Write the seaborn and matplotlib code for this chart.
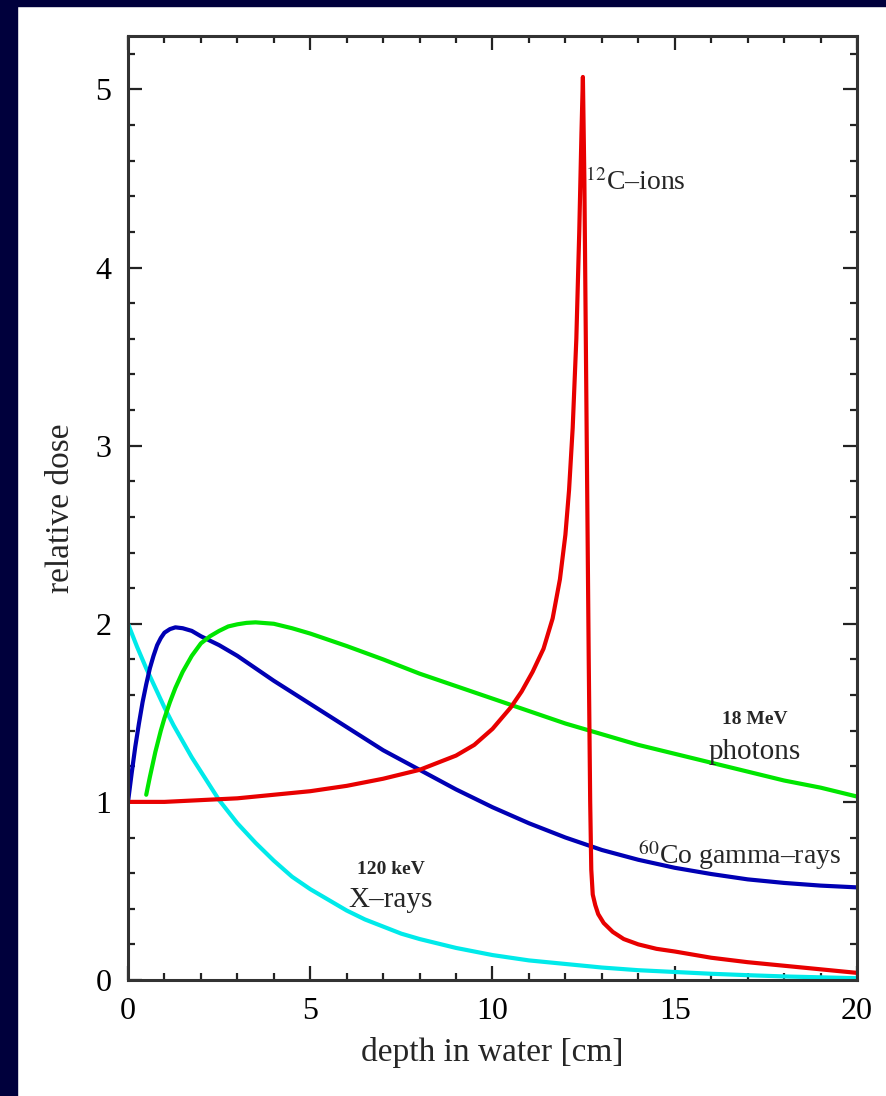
import numpy as np
import pandas as pd
import matplotlib
matplotlib.use("Agg")
from matplotlib import pyplot as plt
from matplotlib.patches import Rectangle
from matplotlib.ticker import MultipleLocator
import seaborn as sns

# depth-dose curves (depth in cm, relative dose)
xray_depth = [0, 0.25, 0.5, 0.75, 1, 1.25, 1.5, 1.75, 2, 2.25, 2.5, 3, 3.5, 4, 4.5,
              5, 5.5, 6, 6.5, 7, 7.5, 8, 9, 10, 11, 12, 13, 14, 15, 16, 17, 18, 19, 20]
xray_dose = [2.0, 1.87, 1.75, 1.64, 1.53, 1.43, 1.34, 1.25, 1.17, 1.09, 1.01, 0.88,
             0.77, 0.67, 0.58, 0.51, 0.45, 0.39, 0.34, 0.30, 0.26, 0.23, 0.18, 0.14,
             0.11, 0.09, 0.07, 0.055, 0.045, 0.035, 0.027, 0.02, 0.015, 0.01]

cobalt_depth = [0, 0.1, 0.2, 0.3, 0.4, 0.5, 0.6, 0.7, 0.8, 0.9, 1.0, 1.15, 1.3, 1.5,
                1.75, 2, 2.5, 3, 3.5, 4, 5, 6, 7, 8, 9, 10, 11, 12, 13, 14, 15, 16,
                17, 18, 19, 20]
cobalt_dose = [1.0, 1.16, 1.31, 1.44, 1.56, 1.66, 1.75, 1.82, 1.88, 1.92, 1.95, 1.97,
               1.98, 1.975, 1.96, 1.93, 1.88, 1.82, 1.75, 1.68, 1.55, 1.42, 1.29,
               1.18, 1.07, 0.97, 0.88, 0.80, 0.73, 0.675, 0.63, 0.595, 0.565, 0.545,
               0.53, 0.52]

photon_depth = [0.5, 0.6, 0.75, 0.9, 1.0, 1.15, 1.3, 1.5, 1.75, 2, 2.25, 2.5, 2.75,
                3, 3.25, 3.5, 4, 4.5, 5, 6, 7, 8, 9, 10, 11, 12, 13, 14, 15, 16, 17,
                18, 19, 20]
photon_dose = [1.04, 1.14, 1.28, 1.40, 1.47, 1.56, 1.64, 1.73, 1.82, 1.89, 1.93,
               1.96, 1.985, 1.997, 2.005, 2.008, 2.0, 1.975, 1.945, 1.875, 1.80,
               1.72, 1.65, 1.58, 1.51, 1.44, 1.38, 1.32, 1.27, 1.22, 1.17, 1.12,
               1.08, 1.03]

carbon_depth = [0, 1, 2, 3, 4, 5, 6, 7, 8, 9, 9.5, 10, 10.5, 10.8, 11.1, 11.4, 11.65,
                11.85, 12.0, 12.1, 12.2, 12.3, 12.38, 12.44, 12.48, 12.52, 12.56, 12.6,
                12.64, 12.68, 12.71, 12.75, 12.82, 12.9, 13.05, 13.3, 13.6, 14, 14.5,
                15, 16, 17, 18, 19, 20]
carbon_dose = [1.0, 1.0, 1.01, 1.02, 1.04, 1.06, 1.09, 1.13, 1.18, 1.26, 1.32, 1.41,
               1.53, 1.62, 1.73, 1.86, 2.03, 2.25, 2.5, 2.75, 3.1, 3.6, 4.2, 4.75,
               5.07, 4.5, 3.6, 2.7, 1.8, 1.0, 0.62, 0.48, 0.42, 0.37, 0.32, 0.27,
               0.23, 0.20, 0.175, 0.16, 0.125, 0.10, 0.08, 0.06, 0.04]

series = [
    ("120 keV X-rays", xray_depth, xray_dose, "#00eaea"),
    ("60Co gamma-rays", cobalt_depth, cobalt_dose, "#0000b4"),
    ("18 MeV photons", photon_depth, photon_dose, "#00e600"),
    ("12C-ions", carbon_depth, carbon_dose, "#e80000"),
]

sns.set_theme(style="ticks")
plt.rcParams['font.family'] = ['Liberation Serif', 'DejaVu Serif']
plt.rcParams['mathtext.fontset'] = 'stix'

fig = plt.figure(figsize=(8.86, 10.96), dpi=100)
fig.patch.set_facecolor("white")
ax = fig.add_axes([128 / 886, 116 / 1096, 729 / 886, 944 / 1096])

for name, depth, dose, color in series:
    df = pd.DataFrame({"depth": depth, "dose": dose})
    sns.lineplot(data=df, x="depth", y="dose", ax=ax, color=color, lw=3.0,
                 sort=False, estimator=None)

ax.set_xlim(0, 20)
ax.set_ylim(0, 5.30)
ax.xaxis.set_major_locator(MultipleLocator(5))
ax.xaxis.set_minor_locator(MultipleLocator(1))
ax.yaxis.set_major_locator(MultipleLocator(1))
ax.yaxis.set_minor_locator(MultipleLocator(0.2))
ax.tick_params(which="both", direction="in", top=True, right=True, width=1.6,
               colors="#222222", labelcolor="black", labelsize=23)
ax.tick_params(which="major", length=10, pad=12)
ax.tick_params(which="minor", length=5)
for sp in ax.spines.values():
    sp.set_linewidth(2.2)
    sp.set_color("#333333")

ax.set_xlabel("depth in water [cm]", fontsize=24, labelpad=8)
ax.set_ylabel("relative dose", fontsize=24, labelpad=14)

# curve labels
ax.text(12.55, 4.48, "$^{12}$C\u2013ions", fontsize=20, ha="left", va="center")
ax.text(17.2, 1.46, "18 MeV", fontsize=14, fontweight="bold", ha="center", va="center")
ax.text(17.2, 1.28, "photons", fontsize=21, ha="center", va="center")
ax.text(14.0, 0.70, "$^{60}$Co gamma\u2013rays", fontsize=20, ha="left", va="center")
ax.text(7.2, 0.62, "120 keV", fontsize=14, fontweight="bold", ha="center", va="center")
ax.text(7.2, 0.45, "X\u2013rays", fontsize=21, ha="center", va="center")

# dark slide border on left and top
fig.patches.append(Rectangle((0, 0), 17 / 886, 1, transform=fig.transFigure,
                             color="#00003c", zorder=-1))
fig.patches.append(Rectangle((0, 1 - 6 / 1096), 1, 6 / 1096, transform=fig.transFigure,
                             color="#00003c", zorder=-1))

fig.savefig("out.png", dpi=100)
